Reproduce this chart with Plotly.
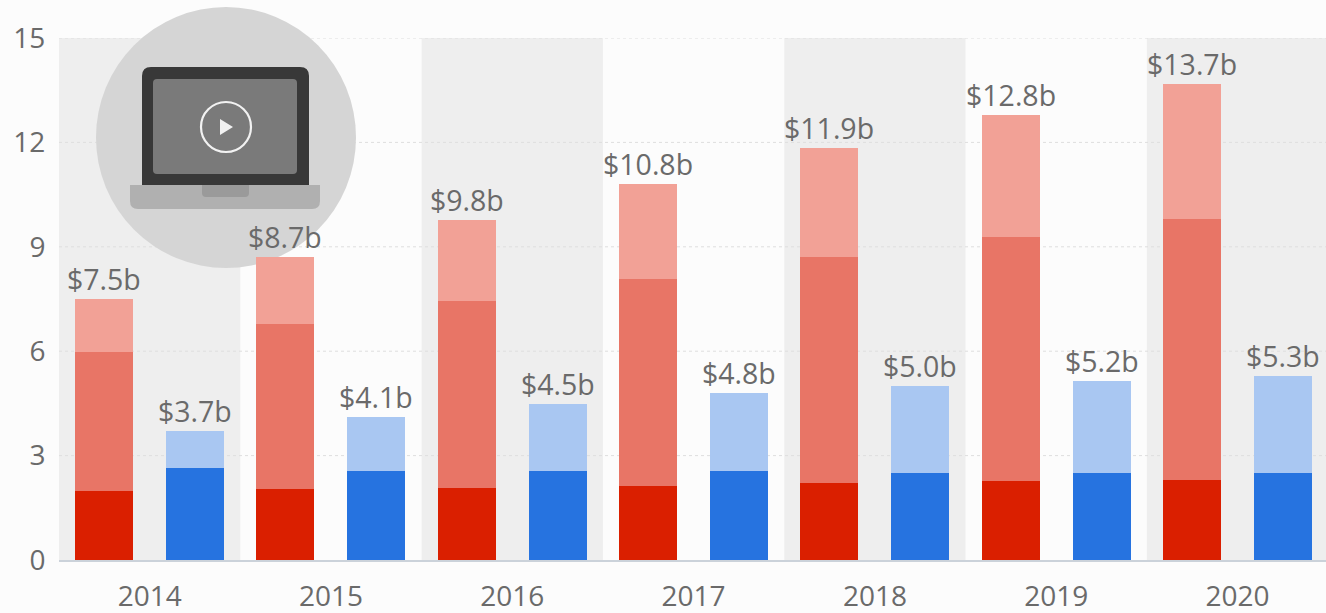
import plotly.graph_objects as go

years = [2014, 2015, 2016, 2017, 2018, 2019, 2020]
red_dark = [1.97, 2.03, 2.06, 2.14, 2.20, 2.26, 2.31]
red_mid = [4.00, 4.74, 5.37, 5.93, 6.50, 7.02, 7.48]
red_light = [1.53, 1.93, 2.34, 2.73, 3.15, 3.52, 3.88]
blue_dark = [2.63, 2.57, 2.55, 2.55, 2.49, 2.49, 2.49]
blue_light = [1.07, 1.53, 1.92, 2.24, 2.50, 2.64, 2.79]
red_labels = ["$7.5b", "$8.7b", "$9.8b", "$10.8b", "$11.9b", "$12.8b", "$13.7b"]
blue_labels = ["$3.7b", "$4.1b", "$4.5b", "$4.8b", "$5.0b", "$5.2b", "$5.3b"]
y_ticks = [0, 3, 6, 9, 12, 15]

W, H = 1326, 613
L, R, T, B = 59, 0, 38, 53
OFFSET = 0.251
BAR_W = 0.32
TEXT = "#6A6A6A"
FONT = "Open Sans"

x_red = [y - OFFSET for y in years]
x_blue = [y + OFFSET for y in years]
red_tot = [a + b + c for a, b, c in zip(red_dark, red_mid, red_light)]
blue_tot = [a + b for a, b in zip(blue_dark, blue_light)]

fig = go.Figure()
for xs, vals, col in [
    (x_red, red_dark, "#DA1F00"),
    (x_red, red_mid, "#E87566"),
    (x_red, red_light, "#F2A196"),
    (x_blue, blue_dark, "#2673E0"),
    (x_blue, blue_light, "#A9C7F2"),
]:
    fig.add_bar(x=xs, y=vals, width=BAR_W, marker=dict(color=col, line=dict(width=0)),
                showlegend=False, hoverinfo="skip")

annotations = []
for xs, tot, lab in [(x_red, red_tot, red_labels), (x_blue, blue_tot, blue_labels)]:
    for x, y, t in zip(xs, tot, lab):
        annotations.append(dict(x=x, y=y, xref="x", yref="y", text=t, showarrow=False,
                                yanchor="bottom", xanchor="center", yshift=-1,
                                font=dict(family=FONT, size=28.5, color=TEXT)))

PW, PH = W - L - R, H - T - B
px = lambda x: (x - L) / PW
py = lambda y: 1 - (y - T) / PH


def rrect(x0, y0, x1, y1, rt, rb):
    a, b, c, d = px(x0), py(y0), px(x1), py(y1)
    rx_t, ry_t, rx_b, ry_b = rt / PW, rt / PH, rb / PW, rb / PH
    return (f"M{a + rx_t},{b} L{c - rx_t},{b} Q{c},{b} {c},{b - ry_t} "
            f"L{c},{d + ry_b} Q{c},{d} {c - rx_b},{d} L{a + rx_b},{d} "
            f"Q{a},{d} {a},{d + ry_b} L{a},{b - ry_t} Q{a},{b} {a + rx_t},{b} Z")


shapes = []
for i, y in enumerate(years):
    if i % 2 == 0:
        shapes.append(dict(type="rect", xref="x", yref="paper", x0=y - 0.5, x1=y + 0.5,
                           y0=0, y1=1, layer="below", fillcolor="#EEEEEE", line_width=0))
for t in y_ticks[1:]:
    shapes.append(dict(type="line", xref="paper", yref="y", x0=0, x1=1, y0=t, y1=t,
                       layer="below", line=dict(color="#DEDEDE", width=1, dash="dot")))


def paper(kind, **k):
    k.update(type=kind, xref="paper", yref="paper", layer="below")
    if "line" not in k:
        k["line_width"] = 0
    shapes.append(k)


paper("circle", x0=px(96), x1=px(356), y0=py(268), y1=py(7), fillcolor="#D5D5D5")
paper("path", path=rrect(142, 67, 309, 186, 9, 0), fillcolor="#383838")
paper("path", path=rrect(153, 79, 297, 174, 4, 4), fillcolor="#7A7A7A")
paper("path", path=rrect(130, 185, 320, 209, 0, 8), fillcolor="#B0B0B0")
paper("path", path=rrect(202, 185, 249, 197, 0, 4), fillcolor="#9A9A9A")
paper("circle", x0=px(201), x1=px(251), y0=py(152), y1=py(102), fillcolor="rgba(0,0,0,0)",
      line=dict(color="#F2F2F2", width=2.2))
paper("path", path=f"M{px(220)},{py(119)} L{px(233)},{py(127)} L{px(220)},{py(135)} Z",
      fillcolor="#F2F2F2")

fig.update_layout(
    width=W, height=H, autosize=False,
    margin=dict(l=L, r=R, t=T, b=B, pad=0),
    paper_bgcolor="#FCFCFC", plot_bgcolor="rgba(0,0,0,0)",
    barmode="stack", shapes=shapes, annotations=annotations, showlegend=False,
    font=dict(family=FONT, color=TEXT),
    xaxis=dict(range=[2013.5, 2020.488], tickmode="array", tickvals=years, automargin=False,
               ticktext=[str(y) for y in years], showgrid=False, zeroline=False,
               ticks="outside", ticklen=10, tickcolor="rgba(0,0,0,0)",
               showline=True, linecolor="#CBD2DA", linewidth=2,
               tickfont=dict(family=FONT, size=28, color=TEXT)),
    yaxis=dict(range=[0, 15], tickmode="array", tickvals=y_ticks, showgrid=False, automargin=False,
               zeroline=False, ticks="outside", ticklen=7, tickcolor="rgba(0,0,0,0)",
               showline=False, tickfont=dict(family=FONT, size=28, color=TEXT)),
)
fig.write_html("out.html", config=dict(displayModeBar=False),
               post_script="document.body.style.margin='0';document.body.style.overflow='hidden';")
